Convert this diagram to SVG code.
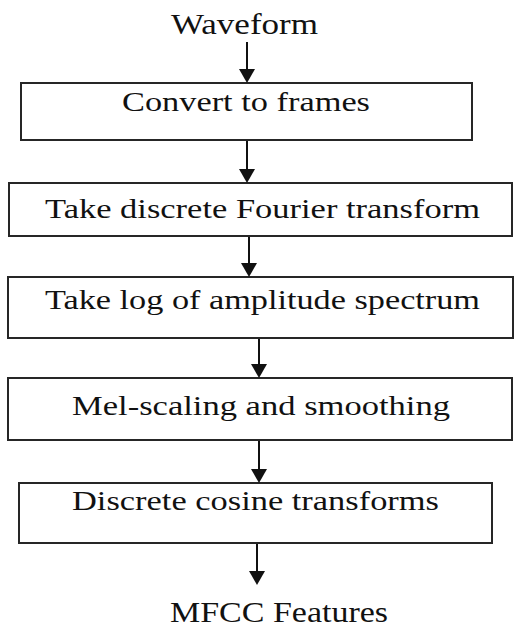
<svg xmlns="http://www.w3.org/2000/svg" width="517" height="630" viewBox="0 0 517 630">
  <style>
    .box { fill: #ffffff; stroke: #262626; stroke-width: 2; }
    .lbl { font-family: "Liberation Serif", "Times New Roman", serif; font-size: 27px; fill: #111111; }
    .io { font-family: "Liberation Serif", "Times New Roman", serif; font-size: 29px; fill: #111111; }
    .conn { stroke: #111111; stroke-width: 2; fill: none; }
    .head { fill: #111111; }
  </style>
  <defs>
    <marker id="arrow" viewBox="0 0 16 14" refX="8" refY="14" markerWidth="16" markerHeight="14" markerUnits="userSpaceOnUse" orient="auto-start-reverse">
      <path class="head" d="M0,0 L16,0 L8,14 Z" transform="rotate(-90 8 7) translate(1 1)"/>
    </marker>
  </defs>

  <rect width="517" height="630" fill="#ffffff"/>

  <!-- Input / output labels -->
  <g id="waveform">
    <text class="io" x="171" y="34" textLength="147" lengthAdjust="spacingAndGlyphs">Waveform</text>
  </g>
  <g id="mfcc-features">
    <text class="io" x="170" y="622" textLength="218" lengthAdjust="spacingAndGlyphs">MFCC Features</text>
  </g>

  <!-- Processing steps -->
  <g id="frames">
    <rect class="box" x="21" y="83" width="451" height="57"/>
    <text class="lbl" x="122" y="111" textLength="248" lengthAdjust="spacingAndGlyphs">Convert to frames</text>
  </g>
  <g id="dft">
    <rect class="box" x="9" y="183" width="503" height="53"/>
    <text class="lbl" x="45" y="218" textLength="435" lengthAdjust="spacingAndGlyphs">Take discrete Fourier transform</text>
  </g>
  <g id="log-amplitude">
    <rect class="box" x="8" y="277" width="505" height="61"/>
    <text class="lbl" x="45" y="309" textLength="435" lengthAdjust="spacingAndGlyphs">Take log of amplitude spectrum</text>
  </g>
  <g id="mel-scaling">
    <rect class="box" x="8" y="378" width="504" height="62"/>
    <text class="lbl" x="72" y="415" textLength="378" lengthAdjust="spacingAndGlyphs">Mel-scaling and smoothing</text>
  </g>
  <g id="dct">
    <rect class="box" x="19" y="483" width="473" height="60"/>
    <text class="lbl" x="72" y="510" textLength="367" lengthAdjust="spacingAndGlyphs">Discrete cosine transforms</text>
  </g>

  <!-- Connectors: stem lines with solid triangular heads -->
  <g id="connectors">
    <line class="conn" x1="247" y1="42" x2="247" y2="70"/>
    <path class="head" d="M239,69 L255,69 L247,83 Z"/>

    <line class="conn" x1="247" y1="141" x2="247" y2="170"/>
    <path class="head" d="M239,169 L255,169 L247,183 Z"/>

    <line class="conn" x1="249" y1="237" x2="249" y2="264"/>
    <path class="head" d="M241,263 L257,263 L249,277 Z"/>

    <line class="conn" x1="259" y1="339" x2="259" y2="365"/>
    <path class="head" d="M251,364 L267,364 L259,378 Z"/>

    <line class="conn" x1="259" y1="441" x2="259" y2="470"/>
    <path class="head" d="M251,469 L267,469 L259,483 Z"/>

    <line class="conn" x1="257" y1="544" x2="257" y2="572"/>
    <path class="head" d="M249,571 L265,571 L257,585 Z"/>
  </g>
</svg>
